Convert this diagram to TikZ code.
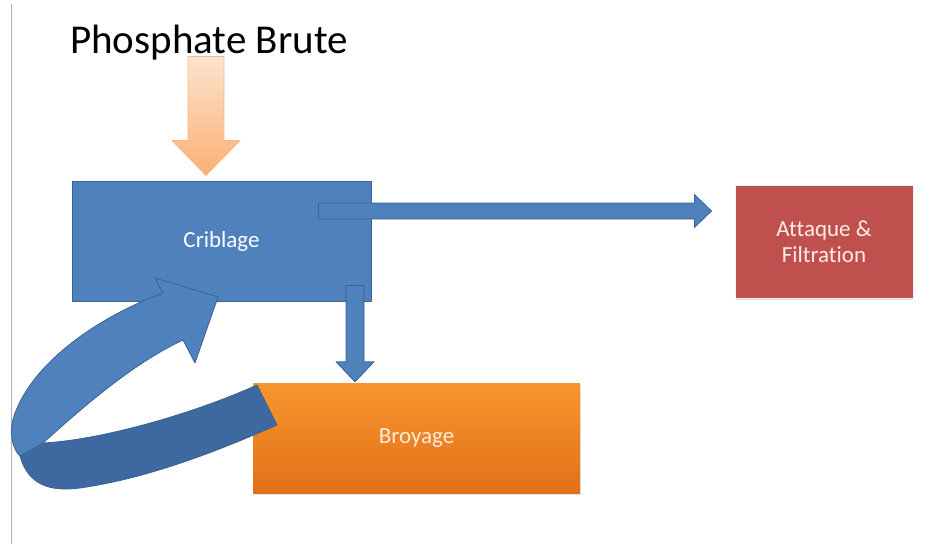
\documentclass[tikz,border=0pt]{standalone}
\usepackage{fontspec}
\setmainfont{Carlito}[Ligatures=NoCommon]
\usetikzlibrary{calc,shadows}
\definecolor{bleu}{HTML}{4F81BD}
\definecolor{bleufonce}{HTML}{3A6494}
\definecolor{bleudos}{HTML}{3D69A0}
\definecolor{rouge}{HTML}{C0504D}
\definecolor{orhaut}{HTML}{F8962E}
\definecolor{orbas}{HTML}{E2701A}
\definecolor{pechehaut}{HTML}{FDE3CD}
\definecolor{pechebas}{HTML}{FAB076}
\definecolor{pechebord}{HTML}{F8B98A}
% fleche pleine vers le bas : style, depart, pointe, demi-tige, demi-tete, longueur tete
\newcommand{\flechev}[6]{\draw[#1] ($(#2)+(-#4,0)$) -- ($(#3)+(-#4,-#6)$) -- ($(#3)+(-#5,-#6)$) -- (#3)
  -- ($(#3)+(#5,-#6)$) -- ($(#3)+(#4,-#6)$) -- ($(#2)+(#4,0)$) -- cycle;}
% fleche pleine vers la droite
\newcommand{\flecheh}[6]{\draw[#1] ($(#2)+(0,-#4)$) -- ($(#3)+(-#6,-#4)$) -- ($(#3)+(-#6,-#5)$) -- (#3)
  -- ($(#3)+(-#6,#5)$) -- ($(#3)+(-#6,#4)$) -- ($(#2)+(0,#4)$) -- cycle;}
\begin{document}
\begin{tikzpicture}[x=1pt, y=-1pt, line join=round, font=\fontsize{23}{26}\selectfont,
	boite/.style={inner sep=0pt, align=center, text=white},
	fleche/.style={fill=bleu, draw=bleufonce, line width=0.8pt}]
	\useasboundingbox (0,0) rectangle (937,544);
	\draw[gray!60, line width=0.8pt] (11,4) -- (11,544);
	\node (titre) at (209,43) {\fontsize{41}{45}\selectfont Phosphate Brute};
	\node[boite, fill=bleu, draw=bleufonce, line width=1pt, minimum width=299pt, minimum height=120pt] (crib) at (221.5,241) {Criblage};
	\node[boite, fill=rouge, draw=white!90!gray, line width=1pt, text=red!8, minimum width=178pt, minimum height=113pt,
		drop shadow={opacity=0.25, shadow xshift=1pt, shadow yshift=-2pt}] (attaque) at (824,241.5) {Attaque \&\\Filtration};
	\node[boite, top color=orhaut, bottom color=orbas, draw=none, text=orange!15, minimum width=327pt, minimum height=110pt,
		drop shadow={opacity=0.2, shadow xshift=1pt, shadow yshift=-2pt}] (broy) at (416.5,438) {Broyage};
	% fleche d'entree
	\coordinate (e1) at ([xshift=-15.5, yshift=5]crib.north);
	\coordinate (e0) at ($(e1)+(0,-119)$);
	\flechev{draw=pechebord, top color=pechehaut, bottom color=pechebas, line width=0.8pt}{e0}{e1}{18}{34}{35}
	% vers attaque
	\coordinate (d0) at ([xshift=-53, yshift=30]crib.east);
	\coordinate (a1) at ([xshift=-23]attaque.west);
	\coordinate (d1) at (a1 |- d0);
	\flecheh{fleche}{d0}{d1}{8}{16.5}{17}
	% vers broyage
	\coordinate (b1) at ([xshift=-61.5, yshift=1]broy.north);
	\coordinate (b0) at (b1 |- crib.south);
	\flechev{fleche}{$(b0)+(0,-16)$}{b1}{9}{19}{20}
	% recyclage
	\draw[fill=bleudos, draw=bleufonce, line width=0.8pt] (20,456) .. controls (28,485) and (50,492) .. (80,488)
		.. controls (150,478) and (220,450) .. (277,425) -- (257,385)
		.. controls (190,415) and (100,440) .. (43,443) -- cycle;
	\draw[fleche] (218,297) -- (155,278) -- (163,293) .. controls (90,320) and (25,370) .. (12,423)
		.. controls (10,440) and (14,450) .. (20,456) -- (43,443)
		.. controls (80,410) and (130,365) .. (183,340) -- (195,363) -- cycle;
\end{tikzpicture}
\end{document}
